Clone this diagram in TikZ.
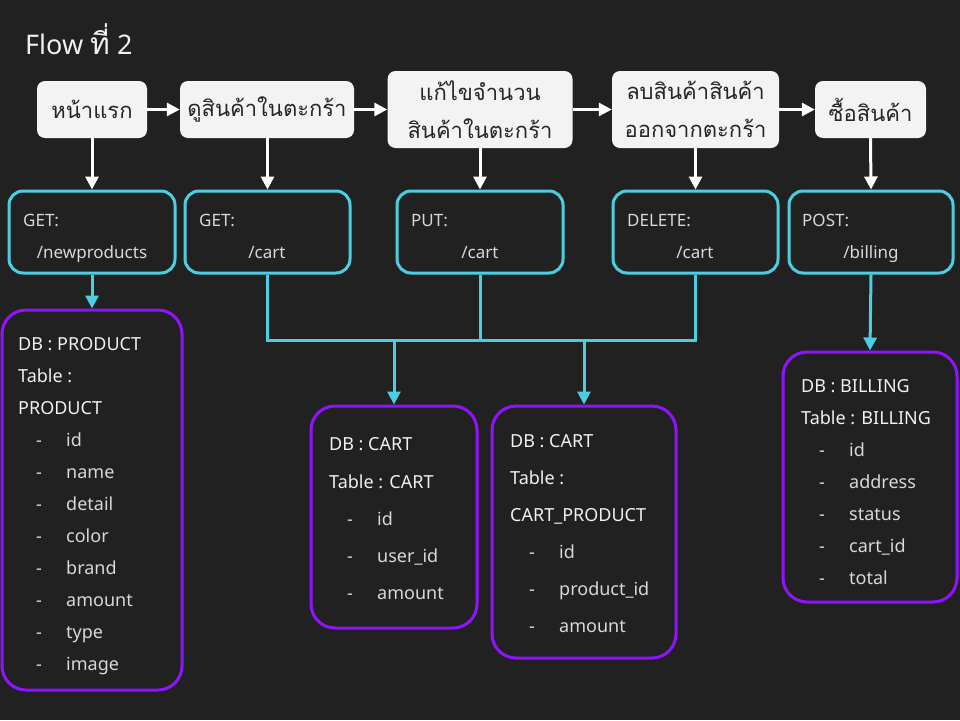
\documentclass[tikz,border=0pt]{standalone}
\usepackage{fontspec}
\setmainfont{Noto Sans}
\newfontfamily\thai[Script=Thai]{Loma}
\usetikzlibrary{arrows.meta}
\definecolor{bgc}{HTML}{212121}
\definecolor{topfill}{HTML}{F3F3F3}
\definecolor{cyanc}{HTML}{4BCFE0}
\definecolor{purp}{HTML}{9013FE}
\definecolor{hdr}{HTML}{F0F0F0}
\definecolor{itm}{HTML}{D8D8D8}
\begin{document}
\begin{tikzpicture}[x=1pt,y=-1pt,
  topbox/.style={draw=none,fill=topfill,rounded corners=8pt,inner sep=0pt,align=center,font=\thai\fontsize{22}{38}\selectfont,text=black!85},
  apibox/.style={draw=cyanc,line width=3pt,rounded corners=14pt,fill=bgc,inner sep=0pt},
  dbbox/.style={draw=purp,line width=3pt,rounded corners=24pt,fill=bgc,inner sep=0pt},
  warrow/.style={draw=white,line width=3pt,-{Triangle[length=13pt,width=13pt]}},
  carrow/.style={draw=cyanc,line width=3pt,-{Triangle[length=13pt,width=13pt]}},
  cline/.style={draw=cyanc,line width=3pt},
  apitxt/.style={inner sep=0pt,text=itm,font=\fontsize{17}{20}\selectfont},
  hdrtxt/.style={inner sep=0pt,anchor=base west,text=hdr,font=\fontsize{18}{20}\selectfont},
  itmtxt/.style={inner sep=0pt,anchor=base west,text=itm,font=\fontsize{18}{20}\selectfont},
]
\fill[bgc] (0,0) rectangle (960,720);
\useasboundingbox (0,0) rectangle (960,720);

% title
\node[inner sep=0pt,anchor=base west,text=hdr,font=\fontsize{27}{30}\selectfont] (title) at (25,54) {Flow {\thai\fontsize{30}{30}\selectfont ที่} 2};

% top boxes
\node[topbox,minimum width=110pt,minimum height=57pt] (t1) at (92,109.5) {หน้าแรก};
\node[topbox,minimum width=174pt,minimum height=57pt] (t2) at (267,109.5) {ดูสินค้าในตะกร้า};
\node[topbox,minimum width=185pt,minimum height=77pt] (t3) at (480,109.5) {แก้ไขจำนวน\\สินค้าในตะกร้า};
\node[topbox,minimum width=167pt,minimum height=77pt] (t4) at (695.5,109.5) {ลบสินค้าสินค้า\\ออกจากตะกร้า};
\node[topbox,minimum width=111pt,minimum height=57pt] (t5) at (870.5,109.5) {ซื้อสินค้า};

\draw[warrow] (t1.east) -- (t2.west);
\draw[warrow] (t2.east) -- (t3.west);
\draw[warrow] (t3.east) -- (t4.west);
\draw[warrow] (t4.east) -- (t5.west);

% api boxes
\node[apibox,minimum width=166pt,minimum height=82pt] (a1) at (92,232) {};
\node[apibox,minimum width=165pt,minimum height=82pt] (a2) at (267.5,232) {};
\node[apibox,minimum width=166pt,minimum height=82pt] (a3) at (480,232) {};
\node[apibox,minimum width=165pt,minimum height=82pt] (a4) at (695.5,232) {};
\node[apibox,minimum width=164pt,minimum height=82pt] (a5) at (871,232) {};

\draw[warrow] (t1.south) -- (a1.north);
\draw[warrow] (t2.south -| a2.north) -- (a2.north);
\draw[warrow] (t3.south) -- (a3.north);
\draw[warrow] (t4.south) -- (a4.north);
\draw[warrow] (t5.south) -- (a5.north);

\node[apitxt,anchor=base west] (a1m) at (23,226.5) {GET:};
\node[apitxt,anchor=base] (a1p) at (92,258) {/newproducts};
\node[apitxt,anchor=base west] (a2m) at (199,226.5) {GET:};
\node[apitxt,anchor=base] (a2p) at (267,258) {/cart};
\node[apitxt,anchor=base west] (a3m) at (411,226.5) {PUT:};
\node[apitxt,anchor=base] (a3p) at (480,258) {/cart};
\node[apitxt,anchor=base west] (a4m) at (627,226.5) {DELETE:};
\node[apitxt,anchor=base] (a4p) at (695,258) {/cart};
\node[apitxt,anchor=base west] (a5m) at (802,226.5) {POST:};
\node[apitxt,anchor=base] (a5p) at (871,258) {/billing};

% db boxes
\node[dbbox,minimum width=180pt,minimum height=380pt] (p) at (92,500) {};
\node[dbbox,minimum width=166pt,minimum height=222pt] (c1) at (394,517) {};
\node[dbbox,minimum width=184pt,minimum height=252pt] (c2) at (584,532) {};
\node[dbbox,minimum width=174pt,minimum height=250pt] (b) at (870,477) {};

% cyan connectors
\coordinate (jl) at (267.5,340);
\draw[cline] (a2.south) -- (a2.south |- jl) -- (a4.south |- jl) -- (a4.south);
\draw[cline] (a3.south) -- (a3.south |- jl);
\draw[carrow] (c1.north |- jl) -- (c1.north);
\draw[carrow] (c2.north |- jl) -- (c2.north);
\draw[carrow] (a1.south) -- (p.north);
\draw[carrow] (a5.south) -- (b.north);

% product text
\node[hdrtxt] (ph1) at (18,350) {DB : PRODUCT};
\node[hdrtxt] (ph2) at (18,382) {Table :};
\node[hdrtxt] (ph3) at (18,414) {PRODUCT};
\foreach \t [count=\i] in {id,name,detail,color,brand,amount,type,image} {
  \node[itmtxt] (pd\i) at (36,{414+32*\i}) {-};
  \node[itmtxt] (pi\i) at (66,{414+32*\i}) {\t};
}

% cart text
\node[hdrtxt] (ch1) at (329,450) {DB : CART};
\node[hdrtxt] (ch2) at (329,488) {Table : CART};
\foreach \t [count=\i] in {id,user\_id,amount} {
  \node[itmtxt] (cd\i) at (347,{488+37*\i}) {-};
  \node[itmtxt] (ci\i) at (377,{488+37*\i}) {\t};
}

% cart product text
\node[hdrtxt] (kh1) at (510,447) {DB : CART};
\node[hdrtxt] (kh2) at (510,484) {Table :};
\node[hdrtxt] (kh3) at (510,521) {CART\_PRODUCT};
\foreach \t [count=\i] in {id,product\_id,amount} {
  \node[itmtxt] (kd\i) at (529,{521+37.3*\i}) {-};
  \node[itmtxt] (ki\i) at (559,{521+37.3*\i}) {\t};
}

% billing text
\node[hdrtxt] (bh1) at (801,392) {DB : BILLING};
\node[hdrtxt] (bh2) at (801,424) {Table : BILLING};
\foreach \t [count=\i] in {id,address,status,cart\_id,total} {
  \node[itmtxt] (bd\i) at (819,{424+32*\i}) {-};
  \node[itmtxt] (bi\i) at (849,{424+32*\i}) {\t};
}
\end{tikzpicture}
\end{document}
